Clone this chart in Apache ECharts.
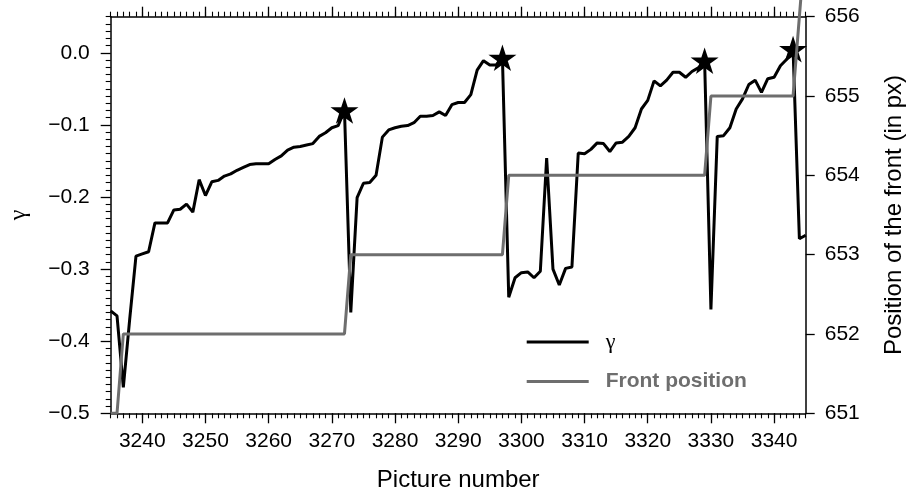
<!DOCTYPE html>
<html>
<head>
<meta charset="utf-8">
<script src="https://cdn.jsdelivr.net/npm/echarts/dist/echarts.min.js"></script>
<style>
  html, body { margin: 0; padding: 0; background: #fff; }
  #chart { width: 909px; height: 495px; }
</style>
</head>
<body>
<div id="chart"></div>
<script>
// Picture numbers along the x axis
const pictures = [
  3235, 3236, 3237, 3238, 3239, 3240, 3241, 3242, 3243, 3244,
  3245, 3246, 3247, 3248, 3249, 3250, 3251, 3252, 3253, 3254,
  3255, 3256, 3257, 3258, 3259, 3260, 3261, 3262, 3263, 3264,
  3265, 3266, 3267, 3268, 3269, 3270, 3271, 3272, 3273, 3274,
  3275, 3276, 3277, 3278, 3279, 3280, 3281, 3282, 3283, 3284,
  3285, 3286, 3287, 3288, 3289, 3290, 3291, 3292, 3293, 3294,
  3295, 3296, 3297, 3298, 3299, 3300, 3301, 3302, 3303, 3304,
  3305, 3306, 3307, 3308, 3309, 3310, 3311, 3312, 3313, 3314,
  3315, 3316, 3317, 3318, 3319, 3320, 3321, 3322, 3323, 3324,
  3325, 3326, 3327, 3328, 3329, 3330, 3331, 3332, 3333, 3334,
  3335, 3336, 3337, 3338, 3339, 3340, 3341, 3342, 3343, 3344,
  3345
];

// gamma for each picture
const gamma = [
  -0.358, -0.365, -0.464, -0.370, -0.282, -0.279, -0.276, -0.236, -0.236, -0.236,
  -0.218, -0.217, -0.210, -0.221, -0.176, -0.198, -0.179, -0.177, -0.171, -0.168,
  -0.163, -0.159, -0.155, -0.154, -0.154, -0.154, -0.148, -0.143, -0.135, -0.131,
  -0.130, -0.128, -0.126, -0.116, -0.111, -0.104, -0.101, -0.080, -0.360, -0.201,
  -0.181, -0.180, -0.170, -0.117, -0.107, -0.104, -0.102, -0.101, -0.097, -0.088,
  -0.088, -0.087, -0.082, -0.087, -0.072, -0.069, -0.069, -0.058, -0.024, -0.011,
  -0.017, -0.017, -0.007, -0.339, -0.312, -0.305, -0.304, -0.312, -0.303, -0.146,
  -0.300, -0.322, -0.299, -0.297, -0.139, -0.140, -0.134, -0.125, -0.126, -0.137,
  -0.125, -0.124, -0.116, -0.104, -0.078, -0.066, -0.039, -0.046, -0.038, -0.027,
  -0.027, -0.034, -0.026, -0.021, -0.011, -0.356, -0.116, -0.115, -0.104, -0.078,
  -0.064, -0.044, -0.038, -0.055, -0.036, -0.034, -0.018, -0.009, 0.005, -0.258,
  -0.253
];

// Front position (px) for each picture
const frontPosition = [
  651, 651, 652, 652, 652, 652, 652, 652, 652, 652,
  652, 652, 652, 652, 652, 652, 652, 652, 652, 652,
  652, 652, 652, 652, 652, 652, 652, 652, 652, 652,
  652, 652, 652, 652, 652, 652, 652, 652, 653, 653,
  653, 653, 653, 653, 653, 653, 653, 653, 653, 653,
  653, 653, 653, 653, 653, 653, 653, 653, 653, 653,
  653, 653, 653, 654, 654, 654, 654, 654, 654, 654,
  654, 654, 654, 654, 654, 654, 654, 654, 654, 654,
  654, 654, 654, 654, 654, 654, 654, 654, 654, 654,
  654, 654, 654, 654, 654, 655, 655, 655, 655, 655,
  655, 655, 655, 655, 655, 655, 655, 655, 655, 656,
  657
];

// Pictures where gamma peaks just before the front advances
const peakPictures = [3272, 3297, 3329, 3343];

// Tick labels
const xTickLabels = [3240, 3250, 3260, 3270, 3280, 3290, 3300, 3310, 3320, 3330, 3340];
const gammaTickLabels = [-0.5, -0.4, -0.3, -0.2, -0.1, 0.0];
const frontTickLabels = [651, 652, 653, 654, 655, 656];

// Minor tick positions on the gamma axis (every 0.01, skipping the labelled ones)
const gammaMinorTicks = [];
for (let k = -50; k <= 5; k++) {
  if (k % 10 !== 0) gammaMinorTicks.push(k / 100);
}

const gammaSeries = pictures.map((p, i) => [p, gamma[i]]);
const frontSeries = pictures.map((p, i) => [p, frontPosition[i]]);
const peakSeries = peakPictures.map(p => [p, gamma[pictures.indexOf(p)]]);

const FONT = '"Liberation Sans", Arial, Helvetica, sans-serif';
const SERIF = '"Liberation Serif", "DejaVu Serif", serif';
const GREY = '#6e6e6e';
const STAR = 'path://M50,0 L61.2,34.5 L97.6,34.5 L68.2,55.9 L79.4,90.5 L50,69.1 L20.6,90.5 L31.8,55.9 L2.4,34.5 L38.8,34.5 Z';

const X_MIN = 3235, X_MAX = 3345;
const G_MIN = -0.5, G_MAX = 0.05;

const frameLine = { show: true, onZero: false, lineStyle: { color: '#000', width: 1.5 } };
const noLine = { show: false, onZero: false };
const plainNumber = v => String(v);

const chart = echarts.init(document.getElementById('chart'), null, { renderer: 'canvas' });

chart.setOption({
  animation: false,
  backgroundColor: '#fff',
  textStyle: { fontFamily: FONT },
  grid: {
    left: 110.7, right: 103.3, top: 16.7, bottom: 81.7,
    containLabel: false, outerBoundsMode: 'none'
  },
  legend: {
    orient: 'vertical',
    left: 521.7,
    top: 326,
    itemWidth: 62,
    itemHeight: 3,
    itemGap: 18,
    icon: 'rect',
    selectedMode: false,
    textStyle: { fontSize: 21, lineHeight: 21, color: '#000', fontFamily: FONT, padding: [0, 0, 0, 12] },
    data: [
      { name: 'γ', textStyle: { fontFamily: SERIF, fontSize: 22, color: '#000', padding: [0, 0, 0, 12] } },
      { name: 'Front position', textStyle: { fontWeight: 'bold', color: GREY, fontSize: 21, padding: [0, 0, 0, 12] } }
    ]
  },
  xAxis: [
    {
      type: 'value', position: 'bottom', min: X_MIN, max: X_MAX, interval: 1,
      axisLine: frameLine,
      axisTick: { show: true, length: 10, customValues: xTickLabels, lineStyle: { color: '#000', width: 1.3 } },
      axisLabel: { show: true, customValues: xTickLabels, formatter: plainNumber, fontSize: 21, color: '#000', margin: 17, fontFamily: FONT },
      splitLine: { show: false },
      name: 'Picture number', nameLocation: 'middle', nameGap: 55,
      nameTextStyle: { fontSize: 24, color: '#000', fontFamily: FONT }
    },
    {
      type: 'value', position: 'bottom', min: X_MIN, max: X_MAX, interval: 1,
      axisLine: noLine,
      axisTick: { show: true, length: 5, lineStyle: { color: '#000', width: 1.1 } },
      axisLabel: { show: false }, splitLine: { show: false }
    },
    {
      type: 'value', position: 'top', min: X_MIN, max: X_MAX, interval: 1,
      axisLine: frameLine,
      axisTick: { show: true, length: 10, customValues: xTickLabels, lineStyle: { color: '#000', width: 1.3 } },
      axisLabel: { show: false }, splitLine: { show: false }
    },
    {
      type: 'value', position: 'top', min: X_MIN, max: X_MAX, interval: 1,
      axisLine: noLine,
      axisTick: { show: true, length: 5, lineStyle: { color: '#000', width: 1.1 } },
      axisLabel: { show: false }, splitLine: { show: false }
    }
  ],
  yAxis: [
    {
      type: 'value', position: 'left', min: G_MIN, max: G_MAX, interval: 0.1,
      axisLine: frameLine,
      axisTick: { show: true, length: 10, customValues: gammaTickLabels, lineStyle: { color: '#000', width: 1.3 } },
      axisLabel: {
        show: true, customValues: gammaTickLabels, fontSize: 21, color: '#000', margin: 21, fontFamily: FONT,
        formatter: v => (Math.abs(v) < 1e-9 ? '0.0' : v.toFixed(1).replace('-', '\u2212'))
      },
      splitLine: { show: false },
      name: 'γ', nameLocation: 'middle', nameGap: 80, nameRotate: 90,
      nameTextStyle: { fontSize: 24, color: '#000', fontFamily: SERIF }
    },
    {
      type: 'value', position: 'right', min: 651, max: 656, interval: 1,
      axisLine: frameLine,
      axisTick: { show: true, length: 9, customValues: frontTickLabels, lineStyle: { color: '#000', width: 1.3 } },
      axisLabel: { show: true, customValues: frontTickLabels, formatter: plainNumber, fontSize: 21, color: '#000', margin: 19, fontFamily: FONT },
      splitLine: { show: false },
      name: 'Position of the front (in px)', nameLocation: 'middle', nameGap: 77, nameRotate: 90,
      nameTextStyle: { fontSize: 24, color: '#000', fontFamily: FONT }
    },
    {
      type: 'value', position: 'left', min: G_MIN, max: G_MAX, interval: 0.1,
      axisLine: noLine,
      axisTick: { show: true, length: 5, customValues: gammaMinorTicks, lineStyle: { color: '#000', width: 1.1 } },
      axisLabel: { show: false }, splitLine: { show: false }
    }
  ],
  series: [
    {
      name: 'γ', type: 'line', xAxisIndex: 0, yAxisIndex: 0,
      data: gammaSeries, showSymbol: false, symbol: 'none',
      lineStyle: { color: '#000', width: 3 }, itemStyle: { color: '#000' },
      z: 3
    },
    {
      name: 'peaks', type: 'scatter', xAxisIndex: 0, yAxisIndex: 0,
      data: peakSeries, symbol: STAR, symbolSize: 28, symbolKeepAspect: true,
      itemStyle: { color: '#000', opacity: 1 }, z: 4
    },
    {
      name: 'Front position', type: 'line', xAxisIndex: 0, yAxisIndex: 1,
      data: frontSeries, showSymbol: false, symbol: 'none', clip: false,
      lineStyle: { color: GREY, width: 3 }, itemStyle: { color: GREY },
      z: 5
    }
  ]
});
</script>
</body>
</html>
